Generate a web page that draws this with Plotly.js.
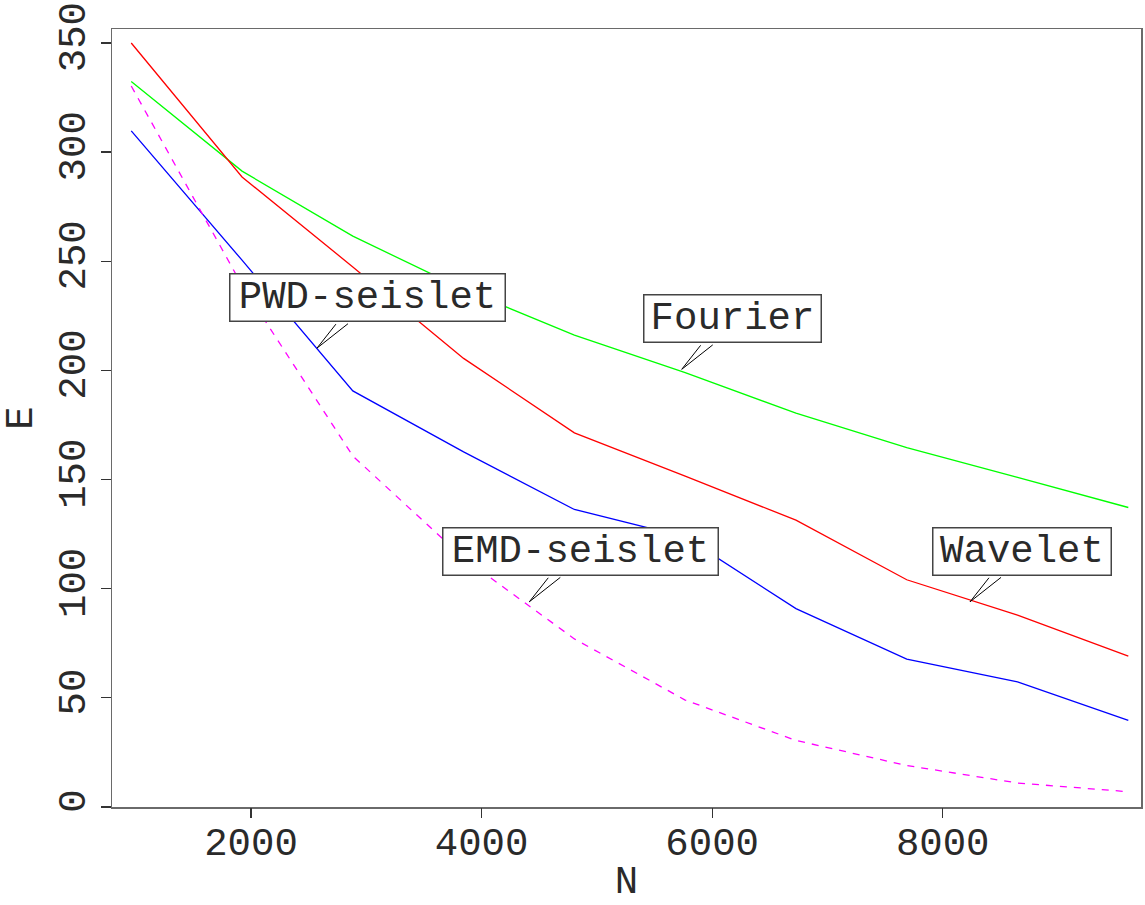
<!DOCTYPE html>
<html>
<head>
<meta charset="utf-8">
<script src="https://cdn.plot.ly/plotly-3.0.1.min.js"></script>
<style>
  html, body { margin: 0; padding: 0; background: #ffffff; }
  #chart { width: 1145px; height: 905px; }
</style>
</head>
<body>
<div id="chart"></div>
<script>
// ---- data ----
const N = [961, 1922, 2883, 3844, 4805, 5766, 6727, 7688, 8649, 9610];
const fourier = [332.3, 291.3, 261.5, 237.1, 216.2, 199.0, 180.4, 164.6, 151.0, 137.2];
const wavelet = [350.0, 288.6, 247.4, 205.5, 171.4, 151.6, 131.4, 104.1, 87.9, 69.1];
const pwdSeislet = [309.7, 250.5, 190.6, 162.7, 136.3, 123.6, 90.9, 67.7, 57.3, 39.7];
const emdSeislet = [330.3, 239.0, 160.8, 114.0, 77.0, 49.0, 30.5, 19.0, 11.0, 7.0];

const seriesNames = ["Fourier", "Wavelet", "PWD-seislet", "EMD-seislet"];
const xTicks = [2000, 4000, 6000, 8000];
const yTicks = [0, 50, 100, 150, 200, 250, 300, 350];

// label callouts: text and the point the callout wedge points at
const labelText = ["PWD-seislet", "Fourier", "EMD-seislet", "Wavelet"];
const labelTipX = [2572, 5736, 4414, 8237];
const labelTipY = [210.2, 200.5, 94.0, 94.0];

const FONT = "Liberation Mono, Courier New, monospace";
const TXT = "#2a2a2a";
const AX = "#6a6a6a";

const traces = [
  {x: N, y: fourier, name: seriesNames[0], mode: "lines", line: {color: "#00ff00", width: 1.3}},
  {x: N, y: wavelet, name: seriesNames[1], mode: "lines", line: {color: "#ff0000", width: 1.3}},
  {x: N, y: pwdSeislet, name: seriesNames[2], mode: "lines", line: {color: "#0000ff", width: 1.3}},
  {x: N, y: emdSeislet, name: seriesNames[3], mode: "lines", line: {color: "#ff00ff", width: 1.3, dash: "7px,7px"}},
  // empty trace that carries the tick-mark-only overlay x axis
  {x: [], y: [], xaxis: "x2", yaxis: "y", mode: "lines", hoverinfo: "skip", showlegend: false}
];

const annotations = [];
const boxW = [274, 176, 274, 177];
const boxLeft = [-88, -38.5, -87, -38.5];
for (let i = 0; i < labelText.length; i++) {
  annotations.push({
    x: labelTipX[i], y: labelTipY[i], xref: "x", yref: "y",
    text: labelText[i], showarrow: false,
    xanchor: "left", yanchor: "bottom",
    xshift: boxLeft[i], yshift: 26,
    width: boxW[i], height: 46, align: "center", valign: "middle",
    font: {family: FONT, size: 39, color: TXT},
    bgcolor: "#ffffff", bordercolor: "#444444", borderwidth: 1.5, borderpad: 0
  });
  [20.5, 33].forEach(function (dx) {
    annotations.push({
      x: labelTipX[i], y: labelTipY[i], xref: "x", yref: "y",
      text: " ", font: {size: 1}, showarrow: true, arrowhead: 0,
      arrowwidth: 1, arrowcolor: "#000000",
      ax: dx, ay: -26, standoff: 0, startstandoff: 0
    });
  });
}

const layout = {
  width: 1145, height: 905,
  margin: {l: 112, r: 4, t: 29, b: 98},
  paper_bgcolor: "#ffffff", plot_bgcolor: "#ffffff",
  showlegend: false,
  font: {family: FONT, color: TXT},
  xaxis: {
    range: [794, 9720], showgrid: false, zeroline: false,
    showline: true, linecolor: AX, linewidth: 1.5, mirror: true,
    ticks: "", ticklen: 0,
    tickvals: xTicks, ticktext: xTicks.map(String),
    tickfont: {family: FONT, size: 39, color: TXT},
    title: {text: "N", font: {family: FONT, size: 39, color: TXT}, standoff: 26}
  },
  xaxis2: {
    matches: "x", overlaying: "x", anchor: "y", side: "bottom",
    showgrid: false, zeroline: false, showline: false,
    ticks: "outside", ticklen: 10, tickwidth: 1.3, tickcolor: "#333333",
    tickvals: xTicks, showticklabels: false
  },
  yaxis: {
    range: [0, 356.4], showgrid: false, zeroline: false,
    showline: true, linecolor: AX, linewidth: 1.5, mirror: true,
    ticks: "outside", ticklen: 10, tickwidth: 1.3, tickcolor: "#333333",
    tickvals: yTicks, ticktext: yTicks.map(String), tickangle: -90,
    tickfont: {family: FONT, size: 39, color: TXT},
    title: {text: "E", font: {family: FONT, size: 39, color: TXT}, standoff: 20}
  },
  annotations: annotations
};

Plotly.newPlot("chart", traces, layout, {displayModeBar: false, staticPlot: true});
</script>
</body>
</html>
